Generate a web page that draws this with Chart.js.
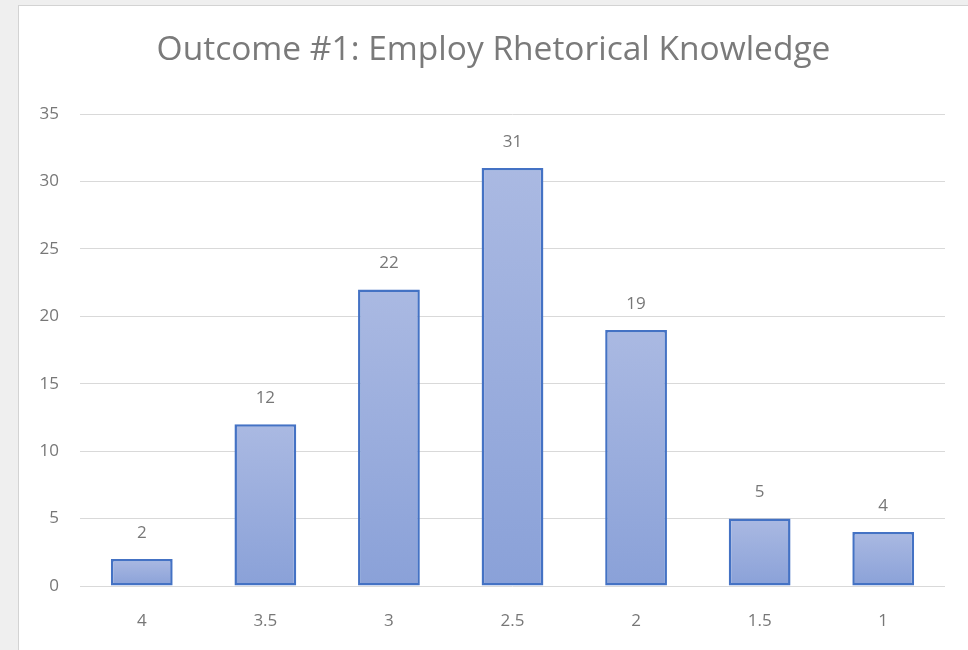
<!DOCTYPE html>
<html lang="en">
  <head>
    <meta charset="UTF-8" />
    <script src="https://cdn.jsdelivr.net/npm/chart.js"></script>
    <style>
      html, body {
        margin: 0;
        padding: 0;
        background: #efefef;
        overflow: hidden;
      }
      .panel {
        position: absolute;
        left: 18px;
        top: 5px;
        width: 949px;
        height: 644px;
        background: #fff;
        border-left: 1px solid #d3d3d3;
        border-top: 1px solid #d3d3d3;
      }
    </style>
    <title>Outcome #1</title>
  </head>
  <body>
    <div class="panel">
      <canvas id="outcomeChart" width="949" height="644"></canvas>
    </div>
    <script>
      // chart data
      const scoreLabels = ["4", "3.5", "3", "2.5", "2", "1.5", "1"];
      const studentCounts = [2, 12, 22, 31, 19, 5, 4];
      const yTicks = [0, 5, 10, 15, 20, 25, 30, 35];

      const fontFamily = "'Open Sans', sans-serif";
      const textGray = "#777777";

      // draw the value above each bar (no datalabels plugin offline)
      const valueLabels = {
        id: "valueLabels",
        afterDatasetsDraw(chart) {
          const c = chart.ctx;
          const meta = chart.getDatasetMeta(0);
          c.save();
          c.font = "17px " + fontFamily;
          c.fillStyle = textGray;
          c.textAlign = "center";
          c.textBaseline = "middle";
          meta.data.forEach((bar, i) => {
            c.fillText(String(studentCounts[i]), bar.x, bar.y - 26);
          });
          c.restore();
        },
      };

      // each bar gets its own light-to-darker gradient
      function barGradient(context) {
        const chart = context.chart;
        const yScale = chart.scales.y;
        if (!chart.chartArea || !yScale) return "#9aaedd";
        const top = yScale.getPixelForValue(context.raw);
        const bottom = yScale.getPixelForValue(0);
        const g = chart.ctx.createLinearGradient(0, top, 0, bottom);
        g.addColorStop(0, "#aab9e2");
        g.addColorStop(1, "#8aa1d8");
        return g;
      }

      new Chart(document.getElementById("outcomeChart"), {
        type: "bar",
        data: {
          labels: scoreLabels,
          datasets: [
            {
              data: studentCounts,
              backgroundColor: barGradient,
              borderColor: "#4472c4",
              borderWidth: 2.5,
              borderSkipped: false,
              barPercentage: 0.5,
              categoryPercentage: 1,
            },
          ],
        },
        options: {
          responsive: false,
          animation: false,
          layout: { padding: 0 },
          plugins: {
            legend: { display: false },
            tooltip: { enabled: false },
            title: {
              display: true,
              text: "Outcome #1: Employ Rhetorical Knowledge",
              color: "#7a7a7a",
              font: { family: fontFamily, size: 33.5, weight: "normal" },
              padding: { top: 24, bottom: 44 },
            },
          },
          scales: {
            x: {
              grid: { display: false },
              border: { display: false },
              ticks: {
                color: textGray,
                font: { family: fontFamily, size: 17 },
                padding: 17,
              },
              afterFit: (scale) => {
                scale.height = 64;
              },
            },
            y: {
              min: 0,
              max: 35,
              afterBuildTicks: (scale) => {
                scale.ticks = yTicks.map((v) => ({ value: v }));
              },
              grid: { color: "#d9d9d9", lineWidth: 1, drawTicks: false },
              border: { display: false },
              ticks: {
                color: textGray,
                font: { family: fontFamily, size: 17 },
                padding: 21,
              },
              afterFit: (scale) => {
                scale.width = 61;
              },
            },
            // empty right axis, only keeps the right margin so the title stays centred
            yRight: {
              position: "right",
              min: 0,
              max: 35,
              grid: { display: false },
              border: { display: false },
              ticks: { display: false },
              afterFit: (scale) => {
                scale.width = 23;
              },
            },
          },
        },
        plugins: [valueLabels],
      });
    </script>
  </body>
</html>
